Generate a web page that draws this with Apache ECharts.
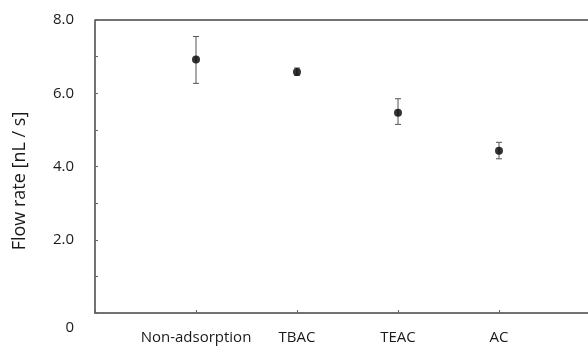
<!DOCTYPE html>
<html><head><meta charset="utf-8">
<script src="https://cdn.jsdelivr.net/npm/echarts@6/dist/echarts.min.js"></script>
<style>html,body{margin:0;padding:0;background:#fff}#c{width:588px;height:347px}</style>
</head><body><div id="c"></div>
<script>
const categories = ['Non-adsorption', 'TBAC', 'TEAC', 'AC'];
const flowRate = [6.92, 6.58, 5.47, 4.43];
const errLow = [6.27, 6.49, 5.15, 4.21];
const errHigh = [7.55, 6.69, 5.85, 4.66];
const yTickLabels = {0: '0', 2: '2.0', 4: '4.0', 6: '6.0', 8: '8.0'};

const FONT = 'Open Sans';
const chart = echarts.init(document.getElementById('c'), null, {renderer: 'canvas'});
const pts = categories.map((c, i) => [i + 1, flowRate[i]]);
const errs = categories.map((c, i) => [i + 1, errLow[i], errHigh[i]]);

chart.setOption({
  animation: false,
  grid: {left: 95, top: 20, height: 293, width: 505, outerBoundsMode: 'none', containLabel: false},
  xAxis: {
    type: 'value', min: 0, max: 5, interval: 1,
    axisLine: {show: true, lineStyle: {color: '#444', width: 1.5}},
    axisTick: {show: true, inside: true, length: 3, lineStyle: {color: '#666'}},
    splitLine: {show: false},
    axisLabel: {
      fontFamily: FONT, fontSize: 15, color: '#1a1a1a', margin: 17,
      formatter: v => (v >= 1 && v <= categories.length) ? categories[v - 1] : ''
    }
  },
  yAxis: {
    type: 'value', min: 0, max: 8, interval: 1,
    axisLine: {show: true, lineStyle: {color: '#444', width: 1.5}},
    axisTick: {show: true, inside: true, length: 3, lineStyle: {color: '#666'}},
    splitLine: {show: false},
    axisLabel: {
      fontFamily: FONT, fontSize: 15, color: '#1a1a1a', margin: 21,
      formatter: v => v === 0 ? '{z|0}' : (yTickLabels[v] || ''),
      rich: {z: {fontFamily: FONT, fontSize: 15, color: '#1a1a1a', padding: [30, 0, 0, 0]}}
    }
  },
  graphic: [
    {type: 'line', shape: {x1: 95, y1: 20, x2: 588, y2: 20}, style: {stroke: '#444', lineWidth: 1.5}},
    {type: 'text', x: 20, y: 181, rotation: Math.PI / 2,
     style: {text: 'Flow rate [nL / s]', fontFamily: FONT, fontSize: 18, fill: '#1a1a1a', align: 'center', verticalAlign: 'middle'}}
  ],
  series: [
    {
      type: 'custom',
      data: errs,
      renderItem: (params, api) => {
        const x = api.value(0);
        const lo = api.coord([x, api.value(1)]);
        const hi = api.coord([x, api.value(2)]);
        const w = 3;
        const st = {stroke: '#555', lineWidth: 1};
        return {type: 'group', children: [
          {type: 'line', shape: {x1: lo[0], y1: lo[1], x2: hi[0], y2: hi[1]}, style: st},
          {type: 'line', shape: {x1: lo[0] - w, y1: lo[1], x2: lo[0] + w, y2: lo[1]}, style: st},
          {type: 'line', shape: {x1: hi[0] - w, y1: hi[1], x2: hi[0] + w, y2: hi[1]}, style: st}
        ]};
      },
      z: 2
    },
    {
      type: 'scatter', data: pts, symbol: 'circle', symbolSize: 8,
      itemStyle: {color: '#000'}, z: 3
    }
  ]
});
</script>
</body></html>
